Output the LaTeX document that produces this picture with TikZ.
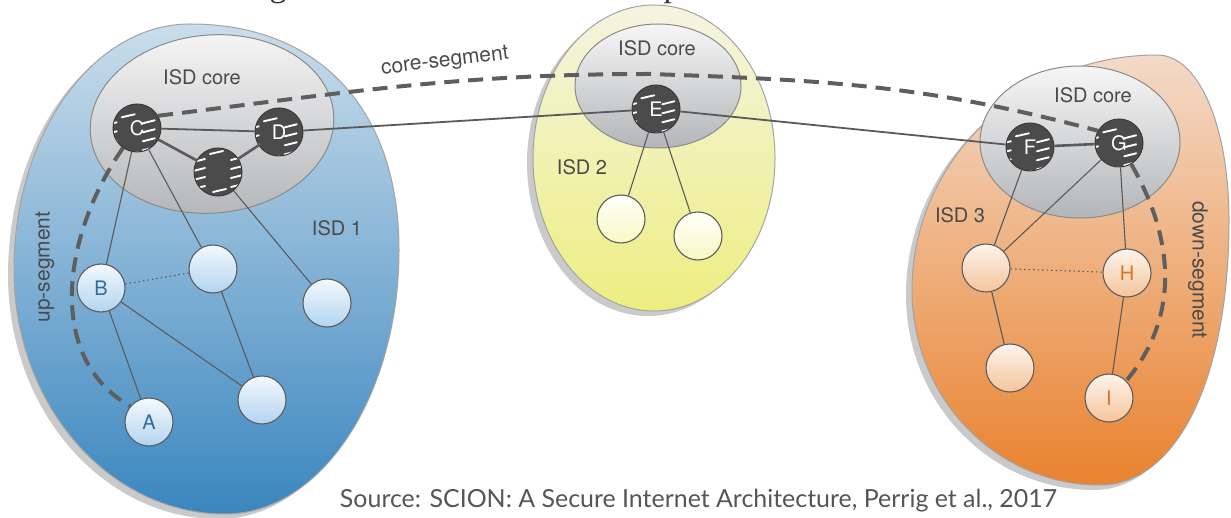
\documentclass[tikz,border=0pt]{standalone}
\usepackage{fontspec}
\usepackage{graphicx}
\setmainfont{TeX Gyre Heros}
\newfontfamily\srcfont{Lato}
\newfontfamily\titlefont{Liberation Serif}

% palette
\definecolor{bluetop}{HTML}{CADDEB}
\definecolor{bluebot}{HTML}{3A86BF}
\definecolor{yeltop}{HTML}{F4F4E2}
\definecolor{yelbot}{HTML}{EDEE80}
\definecolor{orgtop}{HTML}{F3DAC8}
\definecolor{orgbot}{HTML}{E9822E}
\definecolor{coretop}{HTML}{F6F6F6}
\definecolor{corebot}{HTML}{B3B5B8}
\definecolor{coreline}{HTML}{8A8A8A}
\definecolor{outline}{HTML}{A3A3A3}
\definecolor{shadowc}{HTML}{9E9E9E}
\definecolor{routerfill}{HTML}{4B4B4B}
\definecolor{routerline}{HTML}{3A3A3A}
\definecolor{hostline}{HTML}{5C5C5C}
\definecolor{bhosttop}{HTML}{F4F9FD}
\definecolor{bhostbot}{HTML}{B2D4F0}
\definecolor{yhosttop}{HTML}{FFFFFB}
\definecolor{yhostbot}{HTML}{F8F8C4}
\definecolor{ohosttop}{HTML}{FDF4EC}
\definecolor{ohostbot}{HTML}{F5C49C}
\definecolor{bluetext}{HTML}{2F6E9C}
\definecolor{orgtext}{HTML}{D9731E}
\definecolor{labelgray}{HTML}{4A4A4A}
\definecolor{edgegray}{HTML}{5A5A5A}
\definecolor{seggray}{HTML}{5E5E5E}
\definecolor{srcgray}{HTML}{555555}

% outlines of the two egg-shaped domains (four curved quarters each)
\newcommand\isdonepath{(190,493) .. controls (320,493) and (399,407) .. (399,267)
  .. controls (399,121) and (321,3) .. (225,3)
  .. controls (109,3) and (14,112) .. (14,247)
  .. controls (14,383) and (93,493) .. (190,493) -- cycle}
\newcommand\isdthreepath{(1157,462) .. controls (1200,462) and (1229,388) .. (1229,297)
  .. controls (1229,138) and (1177,32) .. (1100,32)
  .. controls (996,32) and (912,119) .. (912,227)
  .. controls (912,357) and (1022,462) .. (1157,462) -- cycle}

\tikzset{
  isdlabel/.style={font=\fontsize{20}{24}\selectfont, text=labelgray, inner sep=0pt},
  seglabel/.style={font=\fontsize{21}{25}\selectfont, text=labelgray, inner sep=0pt},
  isdshape/.style={draw=outline, line width=1pt},
  isdshadow/.style={fill=shadowc, opacity=0.55},
  coreshape/.style={draw=coreline, line width=1pt, top color=coretop, bottom color=corebot},
  wisp/.style={white, line width=1.9pt, line cap=round},
  router/.style={circle, minimum size=48pt, inner sep=0pt, fill=routerfill,
    draw=routerline, line width=1pt, text=white, font=\fontsize{20}{24}\selectfont,
    path picture={
      \begin{scope}[shift={(path picture bounding box.center)}]
        % white streaks along the rim, leaving the middle clear for the letter
        \foreach \yy in {-15,-6,3,12}{
          \draw[wisp] (-25,\yy-2) -- (-13,\yy+1);
          \draw[wisp] (13,\yy) -- (25,\yy+3);
        }
        \draw[wisp] (-8,18) -- (5,21);
        \draw[wisp] (-5,-20) -- (8,-17);
      \end{scope}
    }},
  host/.style={circle, minimum size=48pt, inner sep=0pt, draw=hostline,
    line width=1.1pt, font=\fontsize{20}{24}\selectfont},
  bluehost/.style={host, top color=bhosttop, bottom color=bhostbot, text=bluetext},
  yelhost/.style={host, top color=yhosttop, bottom color=yhostbot},
  orghost/.style={host, top color=ohosttop, bottom color=ohostbot, text=orgtext},
  link/.style={draw=edgegray, line width=1.1pt},
  midlink/.style={draw=edgegray, line width=1.8pt},
  corelink/.style={draw=edgegray, line width=2.6pt},
  peerlink/.style={draw=edgegray, line width=1.1pt, dash pattern=on 1.5pt off 3pt},
  segpath/.style={draw=seggray, line width=4pt, dash pattern=on 15pt off 9pt},
}

\begin{document}
\begin{tikzpicture}[x=1pt, y=1pt]
\useasboundingbox (0,0) rectangle (1231,517);

% descenders of the heading line above
\node[anchor=base, font=\titlefont\fontsize{34}{40}\selectfont, text=black!80] (tg) at (278,520.5) {g};
\node[anchor=base, font=\titlefont\fontsize{34}{40}\selectfont, text=black!80] (tp) at (672,520.5) {p};

% ---- domain shapes with soft shadows
\fill[isdshadow, shift={(-6,-5)}] \isdonepath;
\path[isdshape, top color=bluetop, bottom color=bluebot] \isdonepath;
\fill[isdshadow] (648,354) ellipse [x radius=121pt, y radius=153pt];
\path[isdshape, top color=yeltop, bottom color=yelbot] (654,359) ellipse [x radius=121pt, y radius=153pt];
\fill[isdshadow, shift={(-6,-5)}] \isdthreepath;
\path[isdshape, top color=orgtop, bottom color=orgbot] \isdthreepath;

% ---- core areas
\path[coreshape, rotate around={5:(212,393)}] (212,393) ellipse [x radius=122pt, y radius=89pt];
\path[coreshape] (658,431) ellipse [x radius=83pt, y radius=62pt];
\path[coreshape] (1080,375) ellipse [x radius=100pt, y radius=76pt];

% ---- labels
\node[isdlabel] (core1) at (202,440) {ISD core};
\node[isdlabel] (core2) at (657,469) {ISD core};
\node[isdlabel] (core3) at (1093,422) {ISD core};
\node[isdlabel] (isd1) at (337,289) {ISD 1};
\node[isdlabel] (isd2) at (582,350) {ISD 2};
\node[isdlabel] (isd3) at (960,302) {ISD 3};
\node[seglabel, rotate=90] (uplab) at (45,250) {up-segment};
\node[seglabel, rotate=-90] (downlab) at (1198,247) {down-segment};
\node[seglabel, rotate=7] (corelab) at (445,455) {core-segment};

% ---- core routers
\node[router] (C) at (137,389) {C};
\node[router] (D) at (279,385) {D};
\node[router] (K) at (218,345) {};
\node[router] (E) at (656,408) {E};
\node[router] (F) at (1030,370) {F};
\node[router] (G) at (1119,374) {G};

% ---- non-core hosts
\node[bluehost] (B) at (101,229) {B};
\node[bluehost] (n1) at (213,248) {};
\node[bluehost] (n2) at (327,214) {};
\node[bluehost] (n3) at (262,117) {};
\node[bluehost] (A) at (149,95) {A};
\node[yelhost] (L1) at (621,298) {};
\node[yelhost] (L2) at (698,281) {};
\node[orghost] (n4) at (986,249) {};
\node[orghost] (H) at (1127,244) {H};
\node[orghost] (n5) at (1010,149) {};
\node[orghost] (I) at (1109,119) {I};

% ---- links inside ISD 1
\draw[midlink] (C) -- (D);
\draw[corelink] (C) -- (K);
\draw[corelink] (K) -- (D);
\draw[link] (C) -- (B);
\draw[link] (C) -- (n1);
\draw[link] (K) -- (n2);
\draw[link] (B) -- (A);
\draw[link] (B) -- (n3);
\draw[link] (n1) -- (n3);
\draw[peerlink] (B) -- (n1);

% ---- links between core routers of different ISDs
\draw[midlink] (D) -- (E);
\draw[midlink] (E) -- (F);

% ---- links inside ISD 2
\draw[link] (E) -- (L1);
\draw[link] (E) -- (L2);

% ---- links inside ISD 3
\draw[corelink] (F) -- (G);
\draw[link] (F) -- (n4);
\draw[link] (G) -- (n4);
\draw[link] (G) -- (H);
\draw[link] (n4) -- (n5);
\draw[link] (H) -- (I);
\draw[peerlink] (n4) -- (H);

% ---- path segments
\coordinate (cstop) at (650,443);
\draw[segpath] (C.235) to[out=235, in=150] (A.140);
\draw[segpath] (C.30) to[out=7, in=180] (cstop) to[out=-2, in=165] (G.150);
\draw[segpath] (G.300) to[out=-60, in=50] (I.45);

% ---- citation
\node[anchor=base, font=\srcfont\fontsize{24}{28}\selectfont, text=srcgray, inner sep=0pt] (src) at (698.5,10)
  {\resizebox{717pt}{!}{Source: SCION: A Secure Internet Architecture, Perrig et al., 2017}};
\end{tikzpicture}
\end{document}
